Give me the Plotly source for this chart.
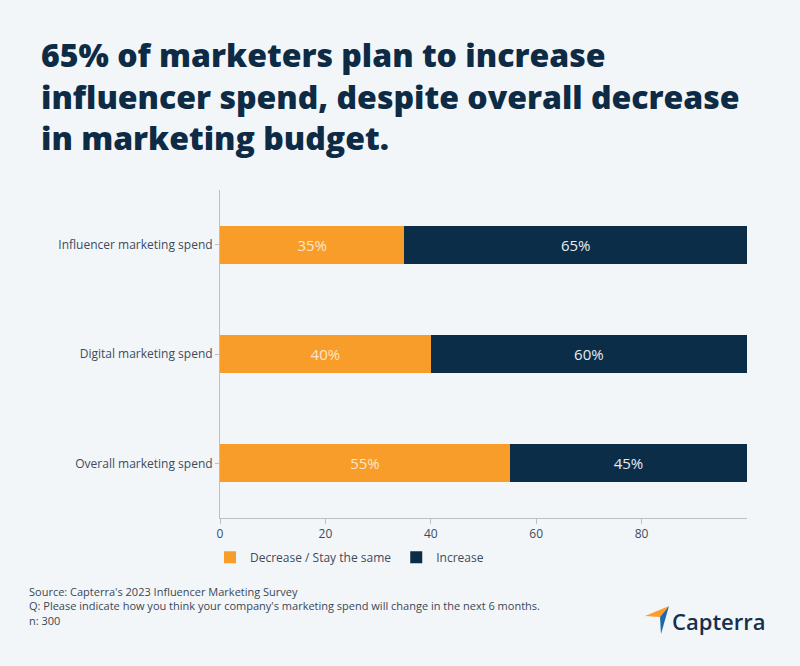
import plotly.graph_objects as go

categories = ["Overall marketing spend", "Digital marketing spend", "Influencer marketing spend"]
decrease_same = [55, 40, 35]
increase = [45, 60, 65]
series_names = ["Decrease / Stay the same", "Increase"]
x_ticks = [0, 20, 40, 60, 80]
title_lines = [
    "65% of marketers plan to increase",
    "influencer spend, despite overall decrease",
    "in marketing budget.",
]

ORANGE = "#F99D2A"
NAVY = "#0C2D48"
BG = "#F3F6F9"
TEXT = "#3D4B5C"

W, H = 800, 666
L, R, T, B = 220, 53, 190, 148
PW, PH = W - L - R, H - T - B


def px(xp, yp):
    return (xp - L) / PW, (H - B - yp) / PH


fig = go.Figure()
fig.add_trace(go.Bar(
    y=categories, x=decrease_same, orientation="h", name=series_names[0],
    marker=dict(color=ORANGE, line=dict(width=0)),
    text=[f"{v}%" for v in decrease_same], textposition="inside", insidetextanchor="middle",
    textfont=dict(color="#FCE6CC", size=15, family="Open Sans"),
    hoverinfo="skip",
))
fig.add_trace(go.Bar(
    y=categories, x=increase, orientation="h", name=series_names[1],
    marker=dict(color=NAVY, line=dict(width=0)),
    text=[f"{v}%" for v in increase], textposition="inside", insidetextanchor="middle",
    textfont=dict(color="#E6ECF1", size=15, family="Open Sans"),
    hoverinfo="skip",
))

fig.update_layout(
    barmode="stack",
    bargap=0.65,
    width=W, height=H,
    paper_bgcolor=BG, plot_bgcolor=BG,
    margin=dict(l=L, r=R, t=T, b=B),
    font=dict(family="Open Sans", color=TEXT, size=12),
    xaxis=dict(
        range=[0, 100], tickvals=x_ticks, showgrid=False, zeroline=False,
        showline=True, linecolor="#B8C0C8", linewidth=1,
        ticks="outside", ticklen=5, tickcolor="#B8C0C8",
        tickfont=dict(size=12, color=TEXT),
    ),
    yaxis=dict(
        showgrid=False, zeroline=False, showline=True, linecolor="#B8C0C8", linewidth=1,
        ticks="outside", ticklen=4, tickcolor="#B8C0C8",
        tickfont=dict(size=12, color=TEXT),
    ),
    legend=dict(
        orientation="h", x=(210 - L) / PW, xanchor="left", y=-0.12, yanchor="middle",
        font=dict(size=12, color=TEXT), bgcolor="rgba(0,0,0,0)",
        itemwidth=30, traceorder="normal",
    ),
    showlegend=True,
)

tx, ty = px(39, 96)
fig.add_annotation(
    text="<br>".join(title_lines), xref="paper", yref="paper", x=tx, y=ty,
    xanchor="left", yanchor="middle", align="left", showarrow=False,
    font=dict(family="Open Sans", size=32, color="#0E2B46", weight=800),
)

sx, sy = px(27, 582)
fig.add_annotation(
    text="Source: Capterra's 2023 Influencer Marketing Survey<br>Q: Please indicate how you think your company's marketing spend will change in the next 6 months.<br>n: 300",
    xref="paper", yref="paper", x=sx, y=sy,
    xanchor="left", yanchor="top", align="left", showarrow=False,
    font=dict(size=11, color="#3A4756", family="Open Sans"),
)
cx, cy = px(670, 621)
fig.add_annotation(
    text="Capterra", xref="paper", yref="paper",
    x=cx, y=cy, xanchor="left", yanchor="middle",
    showarrow=False, font=dict(size=22, color="#13304D", family="Open Sans", weight=600),
)
# logo mark
pts = [px(645, 616), px(669, 606), px(660, 617)]
fig.add_shape(type="path", xref="paper", yref="paper",
              path="M {} {} L {} {} L {} {} Z".format(*pts[0], *pts[1], *pts[2]),
              fillcolor="#FF9D28", line=dict(width=0))
pts2 = [px(660, 617), px(669, 606), px(661, 634)]
fig.add_shape(type="path", xref="paper", yref="paper",
              path="M {} {} L {} {} L {} {} Z".format(*pts2[0], *pts2[1], *pts2[2]),
              fillcolor="#1F67A9", line=dict(width=0))

fig.write_html("out.html", config={"displayModeBar": False},
               post_script="document.body.style.margin='0';")
